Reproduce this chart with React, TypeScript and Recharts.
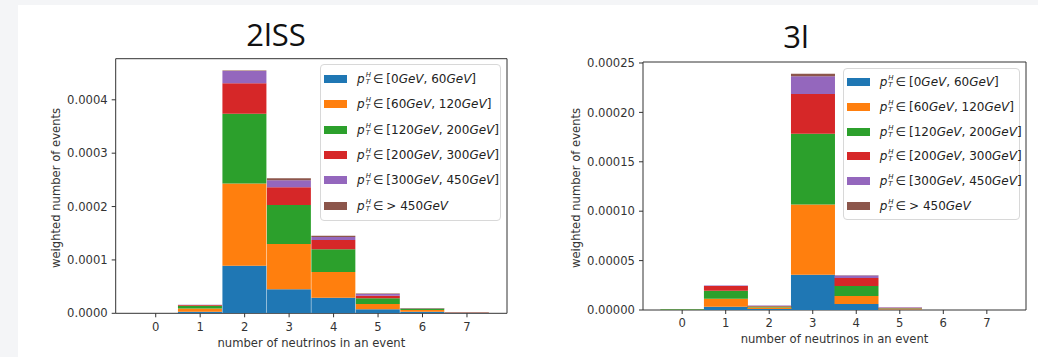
import { Bar, BarChart, Label, Legend, ReferenceArea, XAxis, YAxis } from "recharts";
import { type JSX } from "react";

// bins = number of neutrinos in an event
const bins = [0, 1, 2, 3, 4, 5, 6, 7];
const ptLabels = [
  "[0GeV, 60GeV]",
  "[60GeV, 120GeV]",
  "[120GeV, 200GeV]",
  "[200GeV, 300GeV]",
  "[300GeV, 450GeV]",
  "> 450GeV",
];
const colors = ["#1f77b4", "#ff7f0e", "#2ca02c", "#d62728", "#9467bd", "#8c564b"];

// 2lSS
const ssPt0 = [0, 0.000003, 0.000089, 0.000045, 0.000029, 0.0000075, 0.000003, 0.0000005];
const ssPt60 = [0, 0.000006, 0.000154, 0.000085, 0.0000485, 0.00001, 0.000003, 0.0000005];
const ssPt120 = [0, 0.000005, 0.000131, 0.000073, 0.0000425, 0.0000105, 0.000003, 0.0000005];
const ssPt200 = [0, 0.0000015, 0.000057, 0.000033, 0.0000175, 0.000005, 0.0000005, 0.0000007];
const ssPt300 = [0, 0.0000005, 0.000023, 0.0000135, 0.0000055, 0.000003, 0.0000003, 0.0000002];
const ssPt450 = [0, 0.0000002, 0.000001, 0.0000035, 0.0000025, 0.000001, 0.0000001, 0.0000001];
const ssTicks = [0, 0.0001, 0.0002, 0.0003, 0.0004];

// 3l
const lPt0 = [0.0000003, 0.0000034, 0.000001, 0.0000358, 0.0000061, 0.0000005, 0, 0];
const lPt60 = [0.0000002, 0.0000081, 0.0000015, 0.000071, 0.0000081, 0.0000007, 0, 0];
const lPt120 = [0.0000005, 0.0000081, 0.000001, 0.0000717, 0.0000101, 0.0000005, 0, 0];
const lPt200 = [0.0000001, 0.0000047, 0.0000005, 0.0000402, 0.0000082, 0.0000006, 0, 0];
const lPt300 = [0, 0.0000005, 0.0000005, 0.0000179, 0.0000023, 0.0000004, 0, 0];
const lPt450 = [0, 0.0000001, 0.0000001, 0.0000024, 0.0000003, 0.0000001, 0, 0];
const lTicks = [0, 0.00005, 0.0001, 0.00015, 0.0002, 0.00025];

const xDomain: [number, number] = [-0.9, 7.9];
const xTicks = bins;

const makeRows = (cols: number[][]) =>
  bins.map((b, i) => {
    const row: Record<string, number> = { bin: b };
    cols.forEach((c, k) => {
      row[`s${k}`] = c[i];
    });
    return row;
  });

const PtText = ({ range }: { range: string }) => {
  const parts = range.split(/([A-Za-z]+)/);
  return (
    <span style={{ display: "inline-flex", alignItems: "center", whiteSpace: "nowrap", fontSize: 12, color: "#222" }}>
      <i>p</i>
      <span
        style={{
          display: "inline-flex",
          flexDirection: "column",
          fontSize: 7,
          lineHeight: "7px",
          fontStyle: "italic",
          marginLeft: 1,
        }}
      >
        <span>H</span>
        <span>T</span>
      </span>
      <span style={{ margin: "0 3px 0 2px" }}>∈</span>
      <span>
        {parts.map((p, i) => (/[A-Za-z]/.test(p) ? <i key={i}>{p}</i> : <span key={i}>{p}</span>))}
      </span>
    </span>
  );
};

interface IPanel {
  title: string;
  cols: number[][];
  yMax: number;
  yTicks: number[];
  decimals: number;
  left: number;
  width: number;
  marginTop: number;
  marginRight: number;
  yAxisWidth: number;
  xAxisHeight: number;
  titleTop: number;
  xLabelY: number;
  legendBox: { left: number; top: number; width: number; height: number };
  rowH: number;
  padTop: number;
}

const HistPanel = (p: IPanel): JSX.Element => {
  const data = makeRows(p.cols);
  const tickStyle = { fill: "#333", fontSize: 11.6, fontFamily: "DejaVu Sans" };
  return (
    <div style={{ position: "absolute", left: p.left, top: 0, width: p.width, height: 357 }}>
      <div
        style={{
          position: "absolute",
          left: 276 - 100,
          width: 200,
          top: p.titleTop,
          textAlign: "center",
          fontFamily: "Open Sans",
          fontSize: 31,
          lineHeight: "30px",
          color: "#111",
        }}
      >
        {p.title}
      </div>
      <BarChart
        width={p.width}
        height={357}
        data={data}
        margin={{ top: p.marginTop, right: p.marginRight, bottom: 0, left: 0 }}
        barCategoryGap={0}
        barGap={0}
      >
        <XAxis
          dataKey="bin"
          type="number"
          domain={xDomain}
          ticks={xTicks}
          interval={0}
          allowDataOverflow
          height={p.xAxisHeight}
          axisLine={false}
          tickLine={{ stroke: "#333" }}
          tickSize={4}
          tickMargin={5}
          tick={tickStyle}
        >
          <Label
            content={(props: any) => {
              const vb = props.viewBox;
              return (
                <text
                  x={vb.x + vb.width / 2}
                  y={p.xLabelY}
                  textAnchor="middle"
                  fill="#333"
                  fontSize={11.6}
                  fontFamily="DejaVu Sans"
                >
                  number of neutrinos in an event
                </text>
              );
            }}
          />
        </XAxis>
        <YAxis
          type="number"
          domain={[0, p.yMax]}
          ticks={p.yTicks}
          interval={0}
          allowDataOverflow
          width={p.yAxisWidth}
          axisLine={false}
          tickLine={{ stroke: "#333" }}
          tickSize={4}
          tickMargin={4}
          tick={tickStyle}
          tickFormatter={(v: number) => v.toFixed(p.decimals)}
        >
          <Label
            content={(props: any) => {
              const vb = props.viewBox;
              const cx = 56;
              const cy = vb.y + vb.height / 2 + 2;
              return (
                <text
                  x={cx}
                  y={cy}
                  transform={`rotate(-90, ${cx}, ${cy})`}
                  textAnchor="middle"
                  dominantBaseline="central"
                  fill="#333"
                  fontSize={11.6}
                  fontFamily="DejaVu Sans"
                >
                  weighted number of events
                </text>
              );
            }}
          />
        </YAxis>
        {p.cols.map((_, k) => (
          <Bar
            key={`s${k}`}
            dataKey={`s${k}`}
            name={ptLabels[k]}
            stackId="a"
            fill={colors[k]}
            isAnimationActive={false}
          />
        ))}
        <ReferenceArea
          x1={xDomain[0]}
          x2={xDomain[1]}
          y1={0}
          y2={p.yMax}
          fill="none"
          fillOpacity={0}
          stroke="#333"
          strokeWidth={1}
          ifOverflow="visible"
        />
        <Legend
          layout="vertical"
          align="center"
          verticalAlign="middle"
          wrapperStyle={{ ...p.legendBox, position: "absolute" }}
          content={() => (
            <div
              style={{
                boxSizing: "border-box",
                width: p.legendBox.width,
                height: p.legendBox.height,
                border: "1px solid #d8d8d8",
                borderRadius: 4,
                background: "rgba(255,255,255,0.85)",
                paddingTop: p.padTop,
                paddingLeft: 3,
                fontFamily: "DejaVu Sans",
              }}
            >
              {ptLabels.map((lab, i) => (
                <div key={lab} style={{ height: p.rowH, display: "flex", alignItems: "center" }}>
                  <span
                    style={{ width: 23, height: 8, background: colors[i], marginRight: 10, flex: "none" }}
                  />
                  <PtText range={lab} />
                </div>
              ))}
            </div>
          )}
        />
      </BarChart>
    </div>
  );
};

const App = (): JSX.Element => {
  return (
    <div
      style={{
        position: "fixed",
        left: 0,
        top: 0,
        width: 1038,
        height: 357,
        background: "#f4f5f7",
        overflow: "hidden",
        fontFamily: "DejaVu Sans",
      }}
    >
      <div style={{ position: "absolute", left: 18, top: 5, right: 0, bottom: 0, background: "#fff" }} />
      <HistPanel
        title="2lSS"
        cols={[ssPt0, ssPt60, ssPt120, ssPt200, ssPt300, ssPt450]}
        yMax={0.000477}
        yTicks={ssTicks}
        decimals={4}
        left={0}
        width={520}
        marginTop={58.7}
        marginRight={13}
        yAxisWidth={115.7}
        xAxisHeight={43.7}
        titleTop={18.5}
        xLabelY={347}
        legendBox={{ left: 320, top: 64, width: 181, height: 157 }}
        rowH={25.3}
        padTop={1.5}
      />
      <HistPanel
        title="3l"
        cols={[lPt0, lPt60, lPt120, lPt200, lPt300, lPt450]}
        yMax={0.000251}
        yTicks={lTicks}
        decimals={5}
        left={520}
        width={518}
        marginTop={62}
        marginRight={12}
        yAxisWidth={123}
        xAxisHeight={47}
        titleTop={21}
        xLabelY={343}
        legendBox={{ left: 322.7, top: 67.7, width: 177, height: 152 }}
        rowH={24.8}
        padTop={1}
      />
    </div>
  );
};

export default App;
